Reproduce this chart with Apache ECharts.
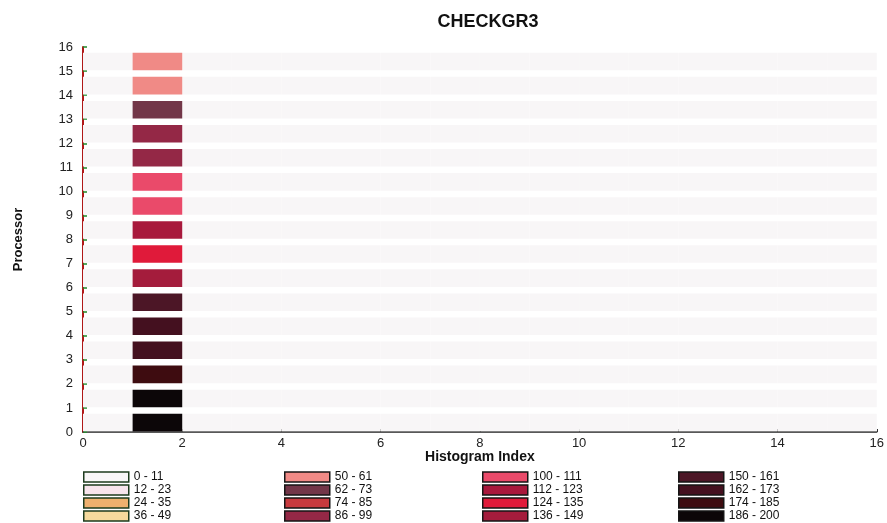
<!DOCTYPE html>
<html>
<head>
<meta charset="utf-8">
<script src="https://cdn.jsdelivr.net/npm/echarts@6/dist/echarts.min.js"></script>
<style>
  html, body { margin: 0; padding: 0; background: #ffffff; }
  #chart { width: 887px; height: 523px; }
</style>
</head>
<body>
<div id="chart"></div>
<script>
// Histogram buckets: label, lower bound, upper bound
var bucketLabels = ['0 - 11', '12 - 23', '24 - 35', '36 - 49',
                    '50 - 61', '62 - 73', '74 - 85', '86 - 99',
                    '100 - 111', '112 - 123', '124 - 135', '136 - 149',
                    '150 - 161', '162 - 173', '174 - 185', '186 - 200'];
var bucketLow  = [0, 12, 24, 36, 50, 62, 74, 86, 100, 112, 124, 136, 150, 162, 174, 186];
var bucketHigh = [11, 23, 35, 49, 61, 73, 85, 99, 111, 123, 135, 149, 161, 173, 185, 200];

// Fill colour of each bucket
var bucketColors = ['#f8f6f7', '#f7e4ec', '#efb06e', '#f5d99c',
                    '#f08a86', '#723648', '#c83a3e', '#942846',
                    '#ea4a6a', '#a8183c', '#e01a3a', '#a41c3c',
                    '#4c1626', '#44101f', '#3e0c10', '#0c0608'];

// Processors (rows) and histogram indices (columns)
var processors = [0, 1, 2, 3, 4, 5, 6, 7, 8, 9, 10, 11, 12, 13, 14, 15];
var histogramIndices = [0, 1, 2, 3, 4, 5, 6, 7, 8, 9, 10, 11, 12, 13, 14, 15];

// Counts at histogram index 1, one per processor
var countsAtIndex1 = [195, 190, 180, 168, 165, 155, 140, 130, 118, 105, 105, 92, 92, 68, 55, 55];
// Counts at every other histogram index, one per processor
var countsElsewhere = [0, 0, 0, 0, 0, 0, 0, 0, 0, 0, 0, 0, 0, 0, 0, 0];

var xTicks = [0, 2, 4, 6, 8, 10, 12, 14, 16];

function bucketOf(v) {
  for (var i = 0; i < bucketLow.length; i++) {
    if (v >= bucketLow[i] && v <= bucketHigh[i]) return i;
  }
  return bucketLow.length - 1;
}

// Group cells by bucket: one custom series per bucket
var cellsByBucket = bucketLabels.map(function () { return []; });
processors.forEach(function (p) {
  histogramIndices.forEach(function (h) {
    var v = h === 1 ? countsAtIndex1[p] : countsElsewhere[p];
    cellsByBucket[bucketOf(v)].push([h, p, v]);
  });
});

function renderCell(params, api) {
  var h = api.value(0), p = api.value(1);
  var a = api.coord([h, p + 0.76]);
  var b = api.coord([h + 1, p + 0.03]);
  return {
    type: 'rect',
    shape: { x: a[0], y: a[1], width: b[0] - a[0], height: b[1] - a[1] },
    style: { fill: api.visual('color') }
  };
}

var series = bucketLabels.map(function (name, i) {
  return {
    type: 'custom',
    name: name,
    coordinateSystem: 'cartesian2d',
    renderItem: renderCell,
    itemStyle: { color: bucketColors[i] },
    encode: { x: 0, y: 1 },
    data: cellsByBucket[i],
    silent: true,
    z: 1
  };
});

var legendLefts = [83, 284, 482, 678];
var legends = legendLefts.map(function (left, col) {
  return {
    orient: 'vertical',
    left: left,
    top: 471,
    padding: 0,
    itemGap: 1,
    itemWidth: 45,
    itemHeight: 10,
    icon: 'rect',
    selectedMode: false,
    itemStyle: { borderColor: col === 0 ? '#1d3a1d' : '#151515', borderWidth: 1.5 },
    textStyle: { fontFamily: 'Liberation Sans', fontSize: 12, lineHeight: 11, color: '#111' },
    data: bucketLabels.slice(col * 4, col * 4 + 4)
  };
});

var chart = echarts.init(document.getElementById('chart'));
chart.setOption({
  animation: false,
  backgroundColor: '#ffffff',
  title: {
    text: 'CHECKGR3',
    left: 483,
    textAlign: 'center',
    top: 8,
    textStyle: { fontFamily: 'Liberation Sans', fontWeight: 'bold', fontSize: 18, color: '#111' }
  },
  grid: { left: 83, right: 4, top: 47, bottom: 91 },
  legend: legends,
  xAxis: {
    type: 'value',
    min: 0, max: 16, interval: 2,
    name: 'Histogram Index',
    nameLocation: 'middle',
    nameGap: 18,
    nameMoveOverlap: false,
    nameTextStyle: { fontFamily: 'Liberation Sans', fontWeight: 'bold', fontSize: 14, color: '#111' },
    axisLine: { lineStyle: { color: '#222', width: 1.5 } },
    axisTick: { inside: true, length: 3, lineStyle: { color: '#333' } },
    axisLabel: {
      fontFamily: 'Liberation Sans', fontSize: 13, color: '#222', margin: 5,
      formatter: function (v) { return xTicks.indexOf(v) >= 0 ? String(v) : ''; }
    },
    splitLine: { show: false }
  },
  yAxis: {
    type: 'value',
    min: 0, max: 16, interval: 1,
    name: 'Processor',
    nameLocation: 'middle',
    nameRotate: 90,
    nameGap: 58,
    nameTextStyle: { fontFamily: 'Liberation Sans', fontWeight: 'bold', fontSize: 13, color: '#111' },
    axisLine: { lineStyle: { color: '#b01818', width: 2 } },
    axisTick: { inside: true, length: 4, lineStyle: { color: '#1f8a2a', width: 1.5 } },
    axisLabel: { fontFamily: 'Liberation Sans', fontSize: 13, color: '#222', margin: 10 },
    splitLine: { show: false }
  },
  series: series
});
</script>
</body>
</html>
